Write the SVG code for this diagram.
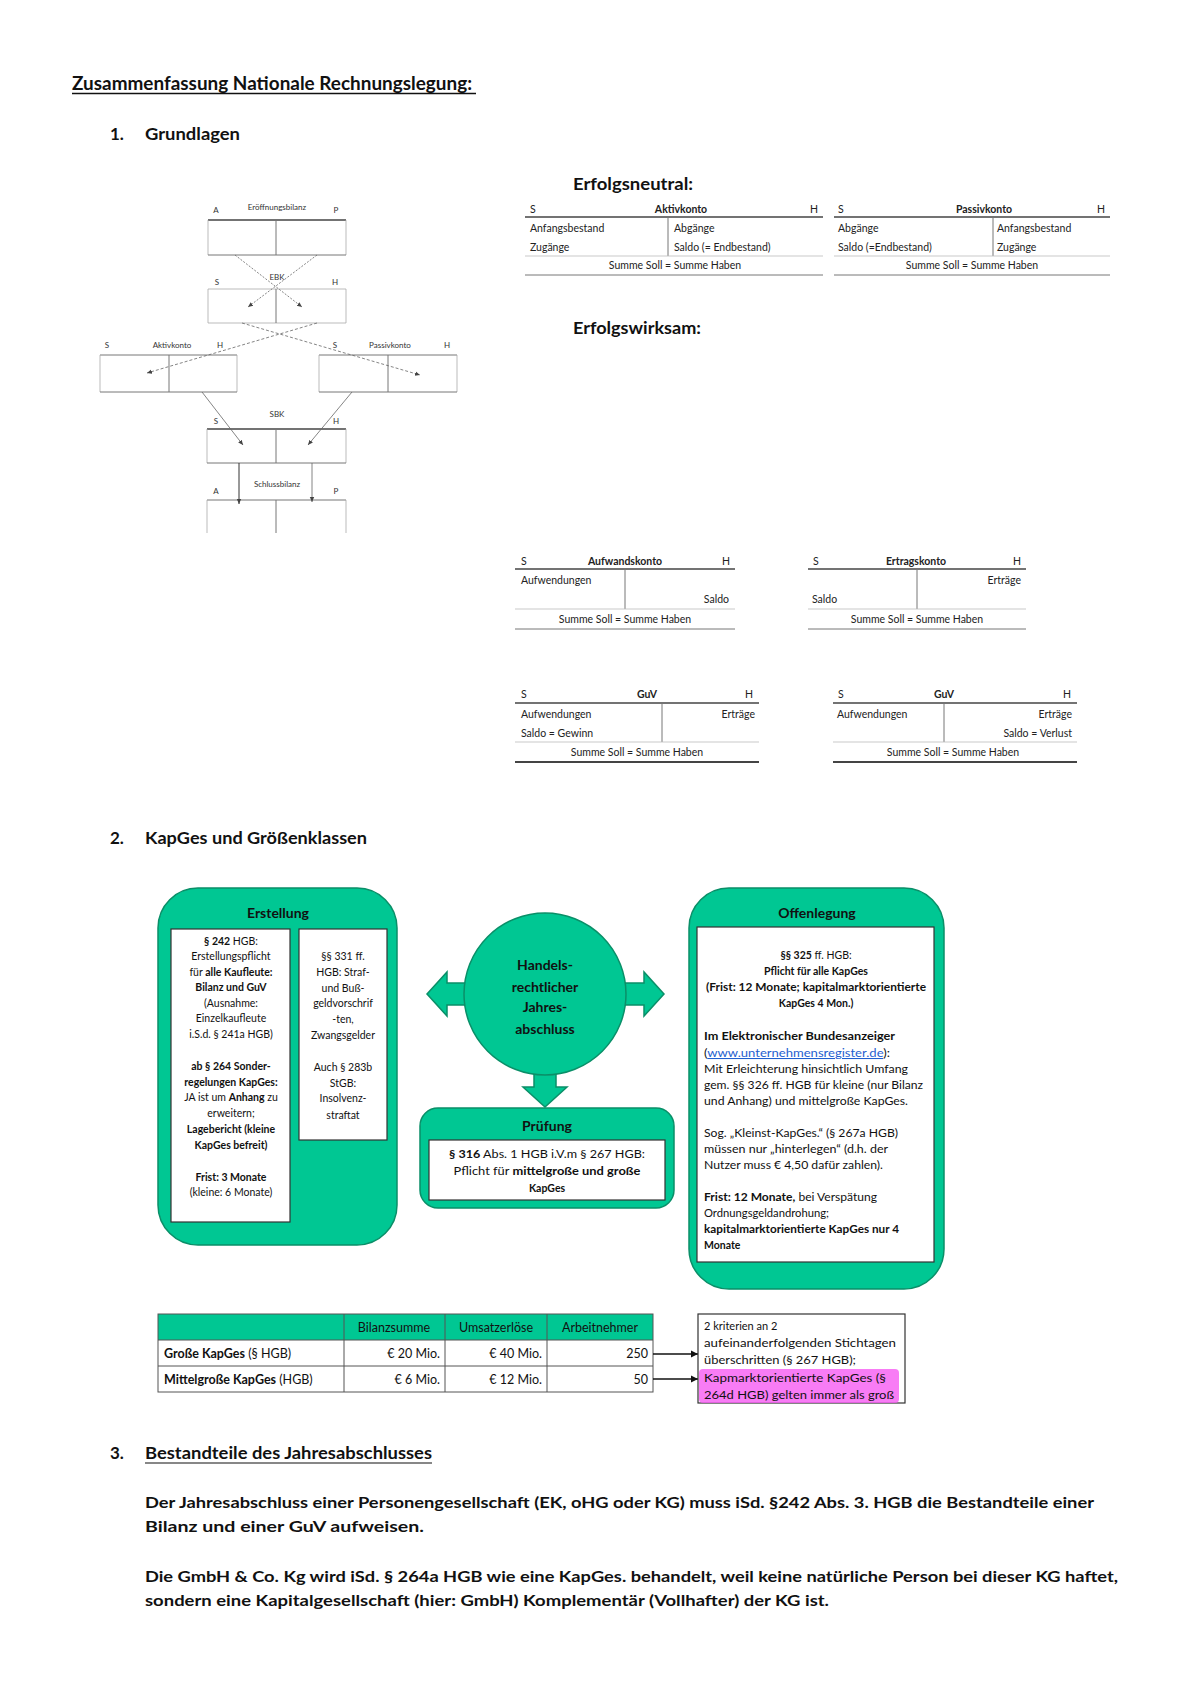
<svg xmlns="http://www.w3.org/2000/svg" width="1200" height="1698" viewBox="0 0 1200 1698">
<style>
text{font-family:Lato,"Liberation Sans",sans-serif;fill:#111}
.b{font-weight:bold}
.h{font-size:17px;font-weight:bold}
.tiny{font-size:8px;fill:#333}
.ta{font-size:10.5px;fill:#222}
.g{font-size:10.5px;fill:#111}
.c{text-anchor:middle}
.r{text-anchor:end}
.box{fill:#00C793;stroke:#0A8F68;stroke-width:1.5}
.wb{fill:#fff;stroke:#333;stroke-width:1.2}
.tl{stroke:#444;stroke-width:1.6}
.tt{stroke:#bbb;stroke-width:0.8}
.tv{stroke:#777;stroke-width:1}
.side{stroke:#aaa;stroke-width:0.8}
.ln{stroke:#666;stroke-width:0.8;fill:none}
.cell{fill:none;stroke:#555;stroke-width:1}
</style>
<defs>
<marker id="ah" markerWidth="6" markerHeight="6" refX="5" refY="3" orient="auto" markerUnits="userSpaceOnUse"><path d="M0,0.8 L5,3 L0,5.2 Z" fill="#444"/></marker>
<marker id="ahb" markerWidth="8" markerHeight="8" refX="7" refY="4" orient="auto" markerUnits="userSpaceOnUse"><path d="M0,0.5 L7,4 L0,7.5 Z" fill="#111"/></marker>
</defs>
<rect width="1200" height="1698" fill="#fff"/>

<!-- Headings -->
<g id="title">
<text x="72" y="90" class="b" font-size="18" textLength="400" lengthAdjust="spacingAndGlyphs">Zusammenfassung Nationale Rechnungslegung:</text>
<line x1="72" y1="93.5" x2="476" y2="93.5" stroke="#111" stroke-width="1.3"/>
</g>
<g id="h1"><text x="110" y="140" class="h">1.</text><text x="145" y="140" class="h" textLength="95" lengthAdjust="spacingAndGlyphs">Grundlagen</text></g>
<g id="h2"><text x="110" y="844" class="h">2.</text><text x="145" y="844" class="h" textLength="222" lengthAdjust="spacingAndGlyphs">KapGes und Größenklassen</text></g>
<g id="h3"><text x="110" y="1459" class="h">3.</text><text x="145" y="1459" class="h" textLength="287" lengthAdjust="spacingAndGlyphs">Bestandteile des Jahresabschlusses</text><line x1="145" y1="1463" x2="432" y2="1463" stroke="#111" stroke-width="1.2"/></g>

<!-- Left flow diagram -->
<g id="eroeffnungsbilanz">
<text x="277" y="210" class="tiny c">Eröffnungsbilanz</text>
<text x="216" y="213" class="tiny c">A</text><text x="336" y="213" class="tiny c">P</text>
<line x1="208" y1="220" x2="346" y2="220" class="tl"/>
<line x1="208" y1="220" x2="208" y2="255" class="side"/><line x1="346" y1="220" x2="346" y2="255" class="side"/>
<line x1="208" y1="255" x2="346" y2="255" class="tv"/><line x1="276" y1="220" x2="276" y2="255" class="tv"/>
</g>
<g id="ebk">
<text x="277" y="280" class="tiny c">EBK</text>
<text x="217" y="285" class="tiny c">S</text><text x="335" y="285" class="tiny c">H</text>
<line x1="208" y1="289" x2="346" y2="289" class="side"/>
<line x1="208" y1="289" x2="208" y2="323" class="side"/><line x1="346" y1="289" x2="346" y2="323" class="side"/>
<line x1="208" y1="323" x2="346" y2="323" class="side"/><line x1="276" y1="289" x2="276" y2="323" class="tv"/>
</g>
<g id="aktivkonto-l">
<text x="107" y="348" class="tiny c">S</text><text x="172" y="348" class="tiny c">Aktivkonto</text><text x="220" y="348" class="tiny c">H</text>
<line x1="100" y1="355" x2="237" y2="355" class="tv"/>
<line x1="100" y1="355" x2="100" y2="392" class="side"/><line x1="237" y1="355" x2="237" y2="392" class="side"/>
<line x1="100" y1="392" x2="237" y2="392" class="tv"/><line x1="169" y1="355" x2="169" y2="392" class="tv"/>
</g>
<g id="passivkonto-l">
<text x="335" y="348" class="tiny c">S</text><text x="390" y="348" class="tiny c">Passivkonto</text><text x="447" y="348" class="tiny c">H</text>
<line x1="319" y1="355" x2="457" y2="355" class="tv"/>
<line x1="319" y1="355" x2="319" y2="392" class="side"/><line x1="457" y1="355" x2="457" y2="392" class="side"/>
<line x1="319" y1="392" x2="457" y2="392" class="tv"/><line x1="388" y1="355" x2="388" y2="392" class="tv"/>
</g>
<g id="sbk">
<text x="277" y="417" class="tiny c">SBK</text>
<text x="216" y="424" class="tiny c">S</text><text x="336" y="424" class="tiny c">H</text>
<line x1="207" y1="429" x2="346" y2="429" class="tl"/>
<line x1="207" y1="429" x2="207" y2="463" class="side"/><line x1="346" y1="429" x2="346" y2="463" class="side"/>
<line x1="207" y1="463" x2="346" y2="463" class="tv"/><line x1="276" y1="429" x2="276" y2="463" class="tv"/>
</g>
<g id="schlussbilanz">
<text x="277" y="487" class="tiny c">Schlussbilanz</text>
<text x="216" y="494" class="tiny c">A</text><text x="336" y="494" class="tiny c">P</text>
<line x1="207" y1="500" x2="346" y2="500" class="tv"/>
<line x1="207" y1="500" x2="207" y2="533" class="side"/><line x1="346" y1="500" x2="346" y2="533" class="side"/>
<line x1="276" y1="500" x2="276" y2="533" class="tv"/>
</g>
<g id="connectors-left">
<line x1="235" y1="255" x2="302" y2="307" class="ln" stroke-dasharray="2,1.5" marker-end="url(#ah)"/>
<line x1="317" y1="255" x2="248" y2="307" class="ln" stroke-dasharray="2,1.5" marker-end="url(#ah)"/>
<line x1="242" y1="323" x2="420" y2="375" class="ln" stroke-dasharray="3,2" marker-end="url(#ah)"/>
<line x1="317" y1="323" x2="147" y2="373" class="ln" stroke-dasharray="3,2" marker-end="url(#ah)"/>
<line x1="202" y1="392" x2="243" y2="445" class="ln" marker-end="url(#ah)"/>
<line x1="352" y1="392" x2="308" y2="445" class="ln" marker-end="url(#ah)"/>
<line x1="239" y1="463" x2="239" y2="504" stroke="#333" stroke-width="1" marker-end="url(#ah)"/>
<line x1="312" y1="463" x2="312" y2="502" class="ln" stroke="#999" marker-end="url(#ah)"/>
</g>

<!-- Erfolgsneutral -->
<text x="573" y="190" class="h" textLength="120" lengthAdjust="spacingAndGlyphs">Erfolgsneutral:</text>
<g id="t-aktivkonto">
<text x="530" y="213" class="ta">S</text><text x="681" y="213" class="ta b c">Aktivkonto</text><text x="818" y="213" class="ta r">H</text>
<line x1="525" y1="217" x2="823" y2="217" class="tl"/>
<text x="530" y="232" class="ta">Anfangsbestand</text><text x="674" y="232" class="ta">Abgänge</text>
<text x="530" y="251" class="ta">Zugänge</text><text x="674" y="251" class="ta">Saldo (= Endbestand)</text>
<line x1="668" y1="217" x2="668" y2="256" class="tv"/>
<line x1="525" y1="256" x2="823" y2="256" class="tt"/>
<text x="675" y="269" class="ta c">Summe Soll = Summe Haben</text>
<line x1="525" y1="275" x2="823" y2="275" class="tv"/>
</g>
<g id="t-passivkonto">
<text x="838" y="213" class="ta">S</text><text x="984" y="213" class="ta b c">Passivkonto</text><text x="1105" y="213" class="ta r">H</text>
<line x1="834" y1="217" x2="1110" y2="217" class="tl"/>
<text x="838" y="232" class="ta">Abgänge</text><text x="997" y="232" class="ta">Anfangsbestand</text>
<text x="838" y="251" class="ta">Saldo (=Endbestand)</text><text x="997" y="251" class="ta">Zugänge</text>
<line x1="993" y1="217" x2="993" y2="256" class="tv"/>
<line x1="834" y1="256" x2="1110" y2="256" class="tt"/>
<text x="972" y="269" class="ta c">Summe Soll = Summe Haben</text>
<line x1="834" y1="275" x2="1110" y2="275" class="tv"/>
</g>

<!-- Erfolgswirksam -->
<text x="573" y="334" class="h" textLength="128" lengthAdjust="spacingAndGlyphs">Erfolgswirksam:</text>
<g id="t-aufwandskonto">
<text x="521" y="565" class="ta">S</text><text x="625" y="565" class="ta b c">Aufwandskonto</text><text x="730" y="565" class="ta r">H</text>
<line x1="515" y1="569" x2="735" y2="569" class="tl"/>
<text x="521" y="584" class="ta">Aufwendungen</text>
<text x="729" y="603" class="ta r">Saldo</text>
<line x1="625" y1="569" x2="625" y2="609" class="tv"/>
<line x1="515" y1="609" x2="735" y2="609" class="tt"/>
<text x="625" y="623" class="ta c">Summe Soll = Summe Haben</text>
<line x1="515" y1="629" x2="735" y2="629" class="tv"/>
</g>
<g id="t-ertragskonto">
<text x="813" y="565" class="ta">S</text><text x="916" y="565" class="ta b c">Ertragskonto</text><text x="1021" y="565" class="ta r">H</text>
<line x1="808" y1="569" x2="1026" y2="569" class="tl"/>
<text x="1021" y="584" class="ta r">Erträge</text>
<text x="812" y="603" class="ta">Saldo</text>
<line x1="917" y1="569" x2="917" y2="609" class="tv"/>
<line x1="808" y1="609" x2="1026" y2="609" class="tt"/>
<text x="917" y="623" class="ta c">Summe Soll = Summe Haben</text>
<line x1="808" y1="629" x2="1026" y2="629" class="tv"/>
</g>
<g id="t-guv-gewinn">
<text x="521" y="698" class="ta">S</text><text x="647" y="698" class="ta b c">GuV</text><text x="753" y="698" class="ta r">H</text>
<line x1="515" y1="703" x2="759" y2="703" class="tl"/>
<text x="521" y="718" class="ta">Aufwendungen</text><text x="755" y="718" class="ta r">Erträge</text>
<text x="521" y="737" class="ta">Saldo = Gewinn</text>
<line x1="662" y1="703" x2="662" y2="742" class="tv"/>
<line x1="515" y1="742" x2="759" y2="742" class="tt"/>
<text x="637" y="756" class="ta c">Summe Soll = Summe Haben</text>
<line x1="515" y1="762" x2="759" y2="762" stroke="#444" stroke-width="2.2"/>
</g>
<g id="t-guv-verlust">
<text x="838" y="698" class="ta">S</text><text x="944" y="698" class="ta b c">GuV</text><text x="1071" y="698" class="ta r">H</text>
<line x1="833" y1="703" x2="1077" y2="703" class="tl"/>
<text x="837" y="718" class="ta">Aufwendungen</text><text x="1072" y="718" class="ta r">Erträge</text>
<text x="1072" y="737" class="ta r">Saldo = Verlust</text>
<line x1="944" y1="703" x2="944" y2="742" class="tv"/>
<line x1="833" y1="742" x2="1077" y2="742" class="tt"/>
<text x="953" y="756" class="ta c">Summe Soll = Summe Haben</text>
<line x1="833" y1="762" x2="1077" y2="762" stroke="#444" stroke-width="2.2"/>
</g>

<!-- Section 2 -->
<g id="erstellung">
<rect x="158" y="888" width="239" height="357" rx="40" class="box"/>
<text x="278" y="918" class="b c" font-size="14">Erstellung</text>
<rect x="171" y="929" width="119" height="293" class="wb"/>
<g class="g c">
<text x="231" y="945"><tspan class="b">§ 242</tspan> HGB:</text>
<text x="231" y="960">Erstellungspflicht</text>
<text x="231" y="976">für <tspan class="b">alle Kaufleute:</tspan></text>
<text x="231" y="991" class="b">Bilanz und GuV</text>
<text x="231" y="1007">(Ausnahme:</text>
<text x="231" y="1022">Einzelkaufleute</text>
<text x="231" y="1038">i.S.d. § 241a HGB)</text>
<text x="231" y="1070" class="b">ab § 264 Sonder-</text>
<text x="231" y="1086" class="b">regelungen KapGes:</text>
<text x="231" y="1101">JA ist um <tspan class="b">Anhang</tspan> zu</text>
<text x="231" y="1117">erweitern;</text>
<text x="231" y="1133" class="b">Lagebericht (kleine</text>
<text x="231" y="1149" class="b">KapGes befreit)</text>
<text x="231" y="1181" class="b">Frist: 3 Monate</text>
<text x="231" y="1196">(kleine: 6 Monate)</text>
</g>
<rect x="299" y="929" width="88" height="211" class="wb"/>
<g class="g c">
<text x="343" y="960">§§ 331 ff.</text>
<text x="343" y="976">HGB: Straf-</text>
<text x="343" y="992">und Buß-</text>
<text x="343" y="1007">geldvorschrif</text>
<text x="343" y="1023">-ten,</text>
<text x="343" y="1039">Zwangsgelder</text>
<text x="343" y="1071">Auch § 283b</text>
<text x="343" y="1087">StGB:</text>
<text x="343" y="1102">Insolvenz-</text>
<text x="343" y="1119">straftat</text>
</g>
</g>

<g id="connectors-center">
<path d="M472,983 L447,983 L447,972 L427,994 L447,1016 L447,1005 L472,1005 Z" class="box"/>
<path d="M618,983 L644,983 L644,972 L664,994 L644,1016 L644,1005 L618,1005 Z" class="box"/>
<path d="M534,1068 L556,1068 L556,1087 L567,1087 L545,1107 L523,1087 L534,1087 Z" class="box"/>
</g>

<g id="jahresabschluss">
<circle cx="545" cy="994" r="81" class="box"/>
<g class="b c" font-size="14">
<text x="545" y="970">Handels-</text>
<text x="545" y="992">rechtlicher</text>
<text x="545" y="1012">Jahres-</text>
<text x="545" y="1034">abschluss</text>
</g>
</g>

<g id="pruefung">
<rect x="420" y="1108" width="254" height="100" rx="18" class="box"/>
<text x="547" y="1131" class="b c" font-size="14">Prüfung</text>
<rect x="429" y="1140" width="236" height="60" class="wb"/>
<g class="g c">
<text x="547" y="1158" textLength="196" lengthAdjust="spacingAndGlyphs"><tspan class="b">§ 316</tspan> Abs. 1 HGB i.V.m § 267 HGB:</text>
<text x="547" y="1175" textLength="187" lengthAdjust="spacingAndGlyphs">Pflicht für <tspan class="b">mittelgroße und große</tspan></text>
<text x="547" y="1192" class="b">KapGes</text>
</g>
</g>

<g id="offenlegung">
<rect x="689" y="888" width="255" height="401" rx="40" class="box"/>
<text x="817" y="918" class="b c" font-size="14">Offenlegung</text>
<rect x="697" y="927" width="237" height="335" class="wb"/>
<g class="g">
<text x="816" y="959" class="c"><tspan class="b">§§ 325</tspan> ff. HGB:</text>
<text x="816" y="975" class="c b">Pflicht für alle KapGes</text>
<text x="816" y="991" class="c b" textLength="220" lengthAdjust="spacingAndGlyphs">(Frist: 12 Monate; kapitalmarktorientierte</text>
<text x="816" y="1007" class="c b">KapGes 4 Mon.)</text>
<text x="704" y="1040" class="b" textLength="191" lengthAdjust="spacingAndGlyphs">Im Elektronischer Bundesanzeiger</text>
<text x="704" y="1057" textLength="186" lengthAdjust="spacingAndGlyphs">(<tspan fill="#1F5FD0" text-decoration="underline">www.unternehmensregister.de</tspan>):</text>
<text x="704" y="1073" textLength="204" lengthAdjust="spacingAndGlyphs">Mit Erleichterung hinsichtlich Umfang</text>
<text x="704" y="1089" textLength="219" lengthAdjust="spacingAndGlyphs">gem. §§ 326 ff. HGB für kleine (nur Bilanz</text>
<text x="704" y="1105" textLength="204" lengthAdjust="spacingAndGlyphs">und Anhang) und mittelgroße KapGes.</text>
<text x="704" y="1137" textLength="194" lengthAdjust="spacingAndGlyphs">Sog. „Kleinst-KapGes.“ (§ 267a HGB)</text>
<text x="704" y="1153" textLength="184" lengthAdjust="spacingAndGlyphs">müssen nur „hinterlegen“ (d.h. der</text>
<text x="704" y="1169" textLength="179" lengthAdjust="spacingAndGlyphs">Nutzer muss € 4,50 dafür zahlen).</text>
<text x="704" y="1201" textLength="173" lengthAdjust="spacingAndGlyphs"><tspan class="b">Frist: 12 Monate,</tspan> bei Verspätung</text>
<text x="704" y="1217" textLength="125" lengthAdjust="spacingAndGlyphs">Ordnungsgeldandrohung;</text>
<text x="704" y="1233" class="b" textLength="195" lengthAdjust="spacingAndGlyphs">kapitalmarktorientierte KapGes nur 4</text>
<text x="704" y="1249" class="b">Monate</text>
</g>
</g>

<g id="groessen-tabelle">
<rect x="158" y="1314" width="495" height="26" fill="#00C793"/>
<rect x="158" y="1314" width="495" height="78" class="cell"/>
<line x1="158" y1="1340" x2="653" y2="1340" class="cell"/>
<line x1="158" y1="1366" x2="653" y2="1366" class="cell"/>
<line x1="344" y1="1314" x2="344" y2="1392" class="cell"/>
<line x1="445" y1="1314" x2="445" y2="1392" class="cell"/>
<line x1="547" y1="1314" x2="547" y2="1392" class="cell"/>
<g font-size="12.5">
<text x="394" y="1332" class="c">Bilanzsumme</text>
<text x="496" y="1332" class="c">Umsatzerlöse</text>
<text x="600" y="1332" class="c">Arbeitnehmer</text>
<text x="164" y="1358"><tspan class="b">Große KapGes</tspan> (§ HGB)</text>
<text x="440" y="1358" class="r">€ 20 Mio.</text>
<text x="542" y="1358" class="r">€ 40 Mio.</text>
<text x="648" y="1358" class="r">250</text>
<text x="164" y="1384"><tspan class="b">Mittelgroße KapGes</tspan> (HGB)</text>
<text x="440" y="1384" class="r">€ 6 Mio.</text>
<text x="542" y="1384" class="r">€ 12 Mio.</text>
<text x="648" y="1384" class="r">50</text>
</g>
</g>

<g id="connectors-table">
<line x1="653" y1="1354" x2="698" y2="1354" stroke="#111" stroke-width="1.3" marker-end="url(#ahb)"/>
<line x1="653" y1="1379" x2="698" y2="1379" stroke="#111" stroke-width="1.3" marker-end="url(#ahb)"/>
</g>

<g id="kriterien">
<rect x="698" y="1314" width="207" height="89" fill="#fff" stroke="#333" stroke-width="1.2"/>
<rect x="699" y="1369" width="200" height="34" rx="4" fill="#F65BF2" opacity="0.8"/>
<g font-size="11">
<text x="704" y="1330">2 kriterien an 2</text>
<text x="704" y="1347" textLength="192" lengthAdjust="spacingAndGlyphs">aufeinanderfolgenden Stichtagen</text>
<text x="704" y="1364" textLength="152" lengthAdjust="spacingAndGlyphs">überschritten (§ 267 HGB);</text>
<text x="704" y="1382" fill="#B01FB0" textLength="182" lengthAdjust="spacingAndGlyphs">Kapmarktorientierte KapGes (§</text>
<text x="704" y="1399" fill="#B01FB0" textLength="190" lengthAdjust="spacingAndGlyphs">264d HGB) gelten immer als groß</text>
</g>
</g>

<!-- Section 3 text -->
<g id="absatz" class="b" font-size="16">
<text x="145" y="1508" textLength="949" lengthAdjust="spacingAndGlyphs">Der Jahresabschluss einer Personengesellschaft (EK, oHG oder KG) muss iSd. §242 Abs. 3. HGB die Bestandteile einer</text>
<text x="145" y="1532" textLength="279" lengthAdjust="spacingAndGlyphs">Bilanz und einer GuV aufweisen.</text>
<text x="145" y="1582" textLength="973" lengthAdjust="spacingAndGlyphs">Die GmbH &amp; Co. Kg wird iSd. § 264a HGB wie eine KapGes. behandelt, weil keine natürliche Person bei dieser KG haftet,</text>
<text x="145" y="1606" textLength="684" lengthAdjust="spacingAndGlyphs">sondern eine Kapitalgesellschaft (hier: GmbH) Komplementär (Vollhafter) der KG ist.</text>
</g>
</svg>
